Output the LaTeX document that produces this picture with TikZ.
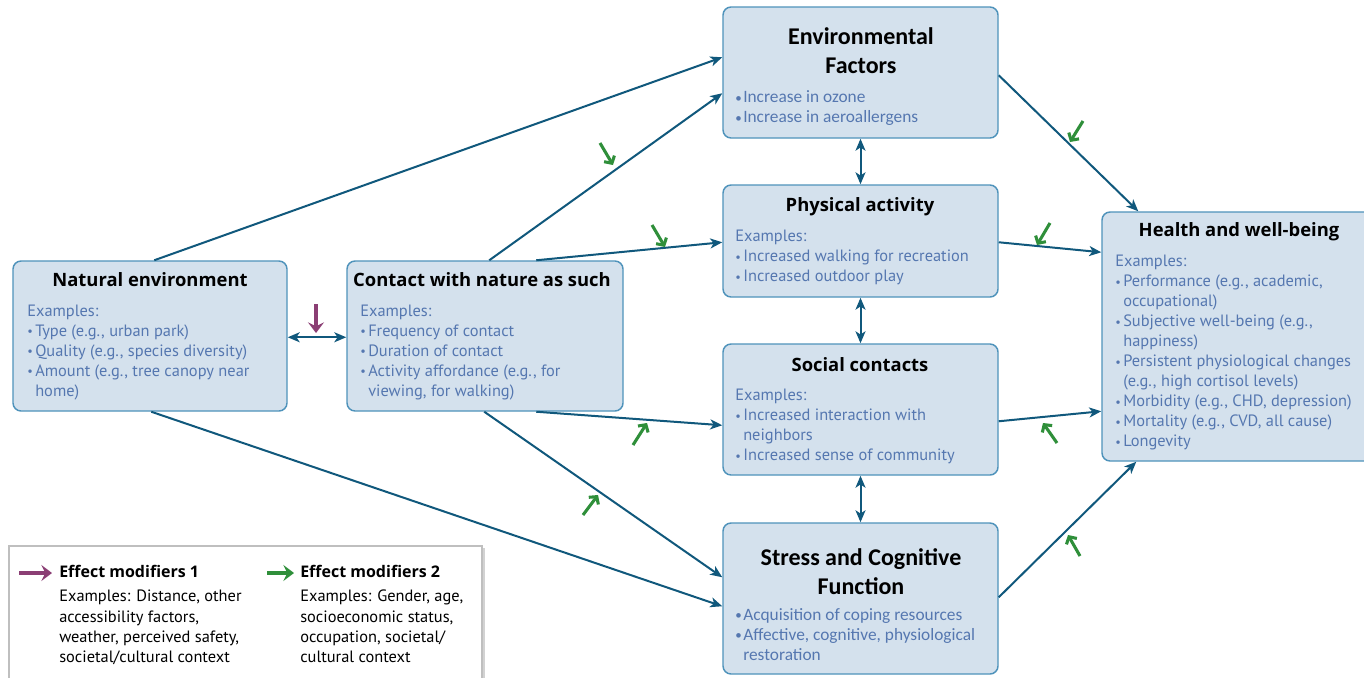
\documentclass[tikz,border=0pt]{standalone}
\usepackage{fontspec}
\usepackage{graphicx}
\setmainfont{PT Sans}
\newfontfamily\califont{Carlito}
\newfontfamily\ttlfont{Open Sans}
\usetikzlibrary{arrows.meta,calc,fit,shadows}
\definecolor{boxfill}{HTML}{D4E1ED}
\definecolor{boxdraw}{HTML}{4F93BB}
\definecolor{arrowc}{HTML}{10587C}
\definecolor{bodytext}{HTML}{5577B0}
\definecolor{modgreen}{HTML}{2F8F3A}
\definecolor{modpurple}{HTML}{8B3E74}
\newcommand\bul{\makebox[6pt][l]{\raisebox{0.6pt}{\scalebox{0.75}{\textbullet}}}}
\newcommand\ind{\hspace*{6pt}}
\tikzset{
  box/.style={draw=boxdraw, fill=boxfill, line width=1.1pt, rounded corners=6pt, inner sep=0pt},
  body/.style={anchor=north west, inner sep=0pt, align=left, text=bodytext, font=\fontsize{12.3}{15}\selectfont},
  calibody/.style={body, font=\califont\fontsize{13}{15}\selectfont},
  titletext/.style={anchor=base, inner sep=0pt, font=\ttlfont\fontsize{13.8}{16}\selectfont\bfseries},
  calititle/.style={anchor=north, inner sep=0pt, align=center, font=\califont\fontsize{18}{22}\selectfont\bfseries},
  legtitle/.style={anchor=base west, inner sep=0pt, font=\ttlfont\fontsize{12}{15}\selectfont\bfseries},
  legbody/.style={anchor=north west, inner sep=0pt, align=left, font=\fontsize{12.3}{15.2}\selectfont},
  link/.style={draw=arrowc, line width=1.5pt, -{Stealth[length=9pt,width=7.5pt,inset=2.5pt]}},
  dbl/.style={draw=arrowc, line width=1.5pt, {Stealth[length=9pt,width=7.5pt,inset=2.5pt]}-{Stealth[length=9pt,width=7.5pt,inset=2.5pt]}},
  modg/.style={draw=modgreen, line width=2.3pt, -{Straight Barb[length=4pt,width=9pt]}},
  legarrow/.style={line width=3pt, -{Stealth[length=8pt,width=12pt,inset=3pt]}},
}
\begin{document}
\begin{tikzpicture}[x=0.75pt,y=-0.75pt]
\useasboundingbox (0,0) rectangle (1364,678);
\clip (0,0) rectangle (1364,678);
\fill[white] (0,0) rectangle (1364,678);

% boxes
\node[box, fit={(13,261) (287,411)}] (ne) {};
\node[box, fit={(347,261) (623,411)}] (cn) {};
\node[box, fit={(723,7) (998,138)}] (ef) {};
\node[box, fit={(723,185) (998,297)}] (pa) {};
\node[box, fit={(723,344) (998,475)}] (sc) {};
\node[box, fit={(723,523) (998,674)}] (sf) {};
\node[box, fit={(1102,212) (1380,461)}] (hw) {};

% titles
\node[titletext] (ne-t) at (150,286.5) {Natural environment};
\node[titletext] (cn-t) at (482,286) {Contact with nature as such};
\node[calititle] (ef-t) at (861,23.5) {\strut Environmental\\Factors};
\node[titletext] (pa-t) at (860,211.7) {Physical activity};
\node[titletext] (sc-t) at (860,371.7) {Social contacts};
\node[calititle] (sf-t) at (861,544.5) {\strut Stress and Cognitive\\Function};
\node[titletext] (hw-t) at (1239,236.7) {Health and well-being};

% body texts
\node[body] (ne-b) at (27,302.5) {\strut Examples:\\
\bul Type (e.g., urban park)\\
\bul Quality (e.g., species diversity)\\
\bul Amount (e.g., tree canopy near\\
\ind home)};
\node[body] (cn-b) at (360,302) {\strut Examples:\\
\bul Frequency of contact\\
\bul Duration of contact\\
\bul Activity affordance (e.g., for\\
\ind viewing, for walking)};
\node[calibody] (ef-b) at (735,88.7) {\strut\bul Increase in ozone\\
\bul Increase in aeroallergens};
\node[body] (pa-b) at (735,227.7) {\strut Examples:\\
\bul Increased walking for recreation\\
\bul Increased outdoor play};
\node[body] (sc-b) at (735,386.7) {\strut Examples:\\
\bul Increased interaction with\\
\ind neighbors\\
\bul Increased sense of community};
\node[calibody] (sf-b) at (735,606) {\strut\bul Acquisition of coping resources\\
\bul Affective, cognitive, physiological\\
\ind restoration};
\node[body] (hw-b) at (1115,252.7) {\strut Examples:\\
\bul Performance (e.g., academic,\\
\ind occupational)\\
\bul Subjective well-being (e.g.,\\
\ind happiness)\\
\bul Persistent physiological changes\\
\ind (e.g., high cortisol levels)\\
\bul Morbidity (e.g., CHD, depression)\\
\bul Mortality (e.g., CVD, all cause)\\
\bul Longevity};

% connectors
\draw[link] ($(ne.north west)+(142,0)$) -- ($(ef.north west)+(0,51)$);
\draw[link] ($(cn.north west)+(143,0)$) -- ($(ef.north west)+(0,87)$);
\draw[link] ($(cn.north west)+(190,0)$) -- ($(pa.north west)+(0,58)$);
\draw[dbl] ($(ne.north east)+(0,77)$) -- ($(cn.north west)+(0,77)$);
\draw[link] ($(cn.south west)+(190,0)$) -- ($(sc.north west)+(0,82)$);
\draw[link] ($(cn.south west)+(138,0)$) -- ($(sf.north west)+(0,55)$);
\draw[link] ($(ne.south west)+(139,0)$) -- ($(sf.north west)+(0,84)$);
\draw[link] ($(ef.north east)+(0,69)$) -- ($(hw.north west)+(37,0)$);
\draw[link] ($(pa.north east)+(0,58)$) -- ($(hw.north west)+(0,41)$);
\draw[link] ($(sc.north east)+(0,78)$) -- ($(hw.north west)+(0,200)$);
\draw[link] ($(sf.north east)+(0,75)$) -- ($(hw.south west)+(35,0)$);
\draw[dbl] (ef.south) -- (pa.north);
\draw[dbl] (pa.south) -- (sc.north);
\draw[dbl] (sc.south) -- (sf.north);

% effect modifier markers
\draw[modpurple, legarrow, line width=3.5pt] (316,304) -- (316,333);
\draw[modg] (600,143) -- (613,165);
\draw[modg] (652,225) -- (665,247);
\draw[modg] (1083,121) -- (1070,142);
\draw[modg] (1050,223) -- (1037,245);
\draw[modg] (633,445) -- (647,423);
\draw[modg] (583,515) -- (598,495);
\draw[modg] (1057,443) -- (1043,423);
\draw[modg] (1080,556) -- (1068,535);

% legend
\node[draw=black!25, fill=white, line width=0.8pt, inner sep=0pt,
      drop shadow={shadow xshift=2.5pt, shadow yshift=-1.5pt, opacity=0.35},
      fit={(9,546) (482,700)}] (leg) {};
\draw[modpurple, legarrow] (19,573) -- (52,573);
\node[legtitle] (l1-t) at (59,577.7) {Effect modifiers 1};
\node[legbody] (l1-b) at (59,587.5) {\strut Examples: Distance, other\\
accessibility factors,\\
weather, perceived safety,\\
societal/cultural context};
\draw[modgreen, legarrow] (267,573) -- (294,573);
\node[legtitle] (l2-t) at (300,577.7) {Effect modifiers 2};
\node[legbody] (l2-b) at (300,587.5) {\strut Examples: Gender, age,\\
socioeconomic status,\\
occupation, societal/\\
cultural context};
\end{tikzpicture}
\end{document}
